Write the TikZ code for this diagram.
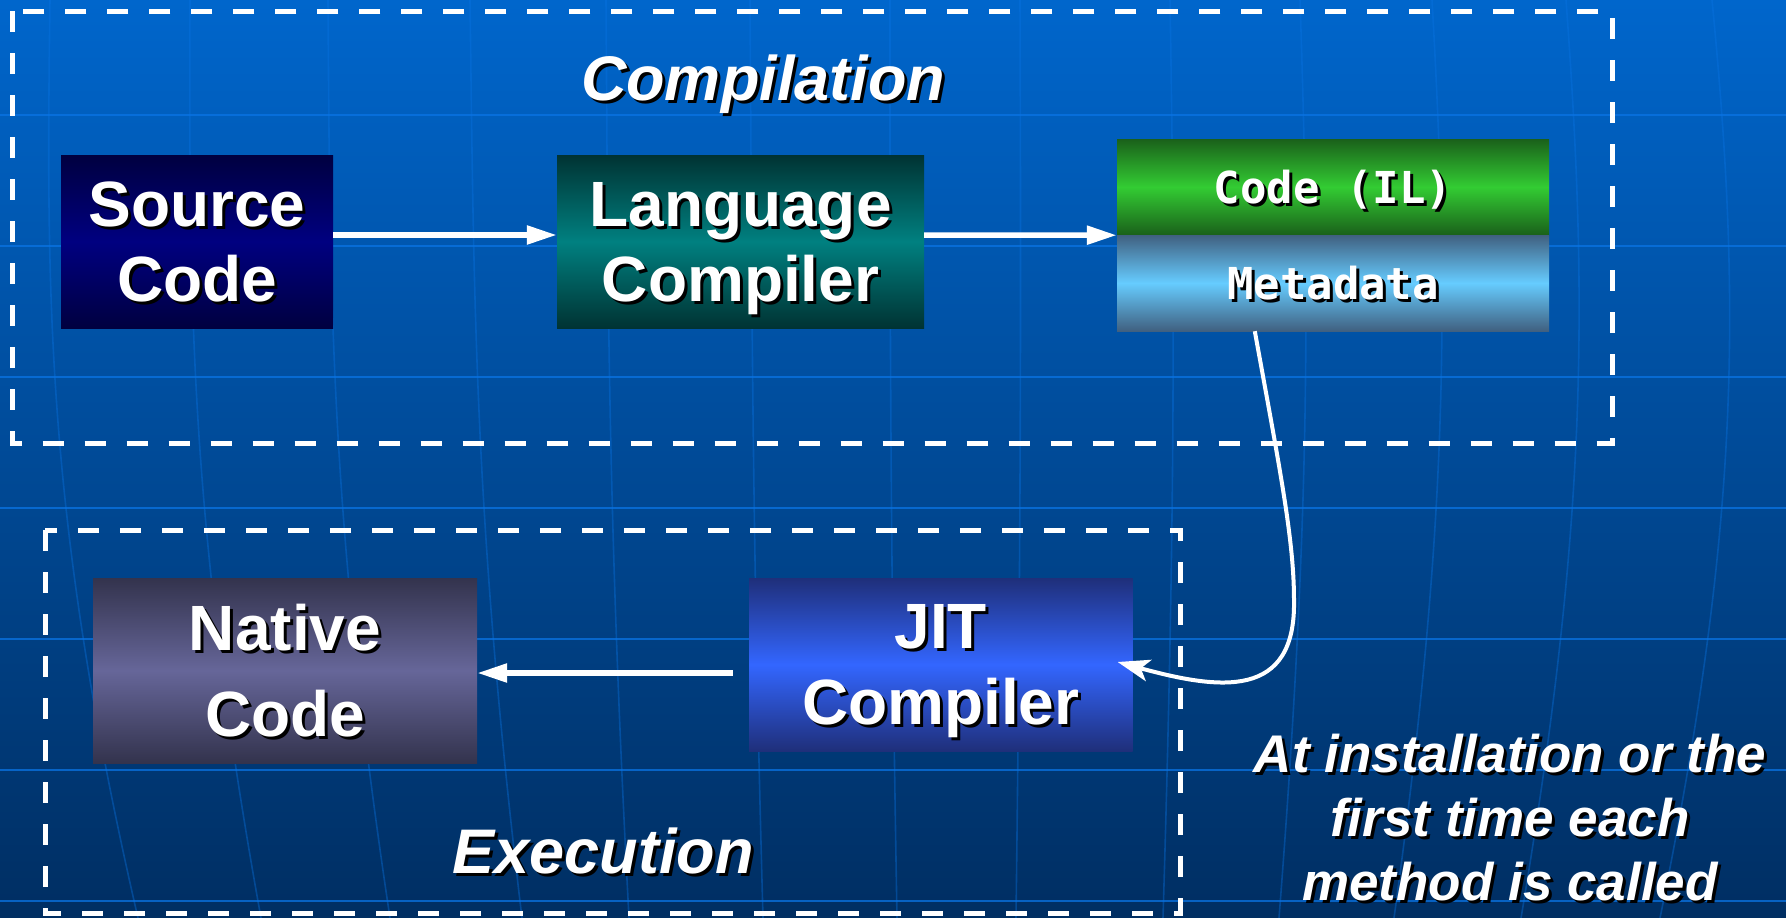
\documentclass[tikz,border=0pt]{standalone}
\usepackage{fontspec}
\setmainfont{Liberation Sans}
\newfontfamily\monofont{DejaVu Sans Mono}
\usetikzlibrary{arrows.meta,calc}

% white lettering with a dark drop shadow; depth suppressed so lines centre on cap height
\newcommand\shadowed[1]{\raisebox{0pt}[\height][0pt]{\makebox[0pt][l]{\kern3pt\raisebox{-3pt}{\color{black}#1}}#1}}

\definecolor{bgTop}{RGB}{0,102,204}
\definecolor{bgBot}{RGB}{0,46,98}
\definecolor{gridLine}{RGB}{10,116,228}
\definecolor{srcDark}{RGB}{0,0,64}
\definecolor{srcMid}{RGB}{0,0,128}
\definecolor{langDark}{RGB}{0,51,51}
\definecolor{langMid}{RGB}{0,128,128}
\definecolor{ilDark}{RGB}{26,96,26}
\definecolor{ilMid}{RGB}{51,204,51}
\definecolor{metaDark}{RGB}{64,96,128}
\definecolor{metaMid}{RGB}{102,204,255}
\definecolor{natDark}{RGB}{51,51,77}
\definecolor{natMid}{RGB}{102,102,153}
\definecolor{jitDark}{RGB}{31,47,122}
\definecolor{jitMid}{RGB}{51,102,255}

\tikzset{
  box/.style={rectangle, inner sep=0pt, text=white, align=center,
    font=\bfseries\fontsize{64}{75}\selectfont},
  grad/.style n args={2}{top color=#1, bottom color=#1, middle color=#2},
  monobox/.style={box, font=\monofont\bfseries\fontsize{44}{50}\selectfont},
  title/.style={text=white, inner sep=0pt, anchor=base,
    font=\bfseries\itshape\fontsize{63}{70}\selectfont},
  flow/.style={draw=white, line width=5.5pt, -{Triangle[length=30pt,width=18pt]}},
  loopback/.style={draw=white, line width=4pt, -{Stealth[length=32pt,width=22pt,inset=8pt]}},
  frame/.style={draw=white, line width=5pt, dash pattern=on 21pt off 21pt},
  hgrid/.style={draw=gridLine, line width=2.5pt, opacity=0.75},
  vgrid/.style={draw=gridLine, line width=1.6pt, opacity=0.38}
}

\begin{document}
\begin{tikzpicture}[x=1pt,y=-1pt]
\useasboundingbox (0,0) rectangle (1786,918);

% backdrop
\fill[top color=bgTop, bottom color=bgBot] (0,0) rectangle (1786,918);
\foreach \yy in {115,246,377,508,639,770,901}
  \draw[hgrid] (0,\yy) -- (1786,\yy);
\foreach \xt/\xm/\xb in {50/46/138, 190/189/261, 328/330/390, 470/474/522, 606/608/629,
    750/752/763, 890/890/897, 1020/1021/1016, 1170/1175/1163, 1300/1310/1279,
    1432/1449/1394, 1566/1588/1521, 1712/1741/1660}
  \draw[vgrid] (\xt,0) .. controls (\xm,300) and (\xm,520) .. (\xb,918);

% compilation stage
\draw[frame] (12.6,11) rectangle (1612.5,443);
\node[title] (compT) at (763,100) {\shadowed{Compilation}};

\node[box, grad={srcDark}{srcMid}, minimum width=272pt, minimum height=173pt]
  (src) at (197,241.5) {\shadowed{Source}\\\shadowed{Code}};
\node[box, grad={langDark}{langMid}, minimum width=367pt, minimum height=173pt]
  (lang) at (740.5,241.5) {\shadowed{Language}\\\shadowed{Compiler}};
\node[monobox, grad={ilDark}{ilMid}, minimum width=432pt, minimum height=96pt]
  (il) at (1333,187) {\shadowed{Code (IL)}};
\node[monobox, grad={metaDark}{metaMid}, minimum width=432pt, minimum height=96pt]
  (meta) at (1333,283) {\shadowed{Metadata}};

\draw[flow] ($(src.east)+(0,-6.5)$) -- ($(lang.west)+(0,-6.5)$);
\draw[flow] ($(lang.east)+(0,-6.5)$) -- (il.south west);

% execution stage
\draw[frame] (45,530) rectangle (1180,913);
\node[title] (execT) at (603,873) {\shadowed{Execution}};

\node[box, grad={natDark}{natMid}, minimum width=384pt, minimum height=185pt,
  font=\bfseries\fontsize{64}{86}\selectfont]
  (native) at (285,670.5) {\shadowed{Native}\\\shadowed{Code}};
\node[box, grad={jitDark}{jitMid}, minimum width=383.5pt, minimum height=173pt,
  font=\bfseries\fontsize{64}{76}\selectfont]
  (jit) at (940.75,664.5) {\shadowed{JIT}\\\shadowed{Compiler}};

\draw[flow] ($(jit.west)+(-16,8.5)$) -- ($(native.east)+(0,2.5)$);

% metadata feeds the JIT compiler
\coordinate (loopStart) at ($(meta.south west)+(138,0)$);
\coordinate (loopEnd) at ($(jit.east)+(-15,-2.5)$);
\draw[loopback] (loopStart) .. controls (1280,470) and (1294,540) .. (1294,600)
  .. controls (1296,700) and (1220,690) .. (loopEnd);

\node[text=white, inner sep=0pt, align=center,
  font=\bfseries\itshape\fontsize{53}{64}\selectfont]
  (note) at (1510,817.5)
  {\shadowed{At installation or the}\\\shadowed{first time each}\\\shadowed{method is called}};
\end{tikzpicture}
\end{document}
